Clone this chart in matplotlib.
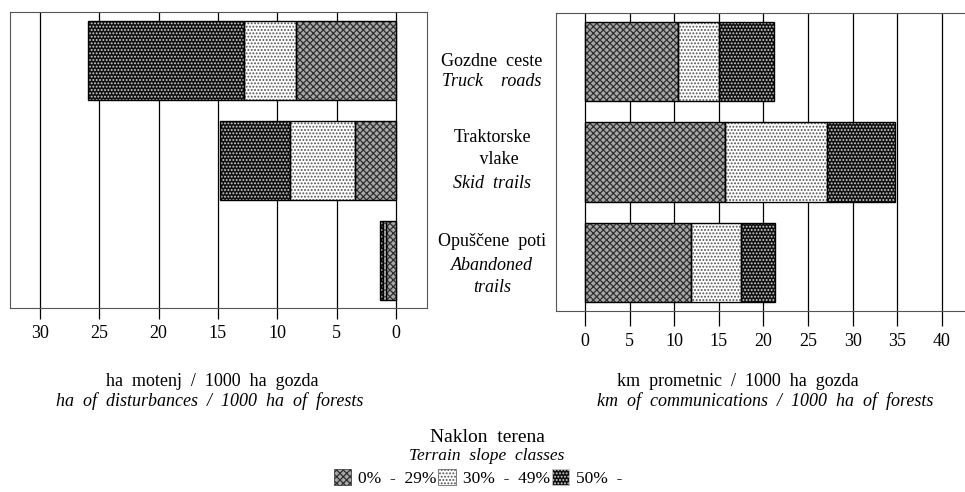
import numpy as np
import matplotlib.pyplot as plt
from matplotlib.patches import Patch

plt.rcParams['font.family'] = ['Liberation Serif', 'DejaVu Serif']
plt.rcParams['hatch.linewidth'] = 0.9

categories = ['Gozdne ceste', 'Traktorske vlake', 'Opuščene poti']
classes = ['0%  -  29%', '30%  -  49%', '50%  -']

# ha of disturbances / 1000 ha of forests
dist_0_29 = [8.4, 3.5, 0.84]
dist_30_49 = [4.4, 5.4, 0.28]
dist_50 = [13.1, 5.9, 0.2]

# km of communications / 1000 ha of forests
comm_0_29 = [10.4, 15.7, 11.9]
comm_30_49 = [4.6, 11.4, 5.6]
comm_50 = [6.2, 7.6, 3.8]

ticks_left = [0, 5, 10, 15, 20, 25, 30]
ticks_right = [0, 5, 10, 15, 20, 25, 30, 35, 40]

# face colour, hatch, hatch colour for each slope class
styles = [('#a8a8a8', 'xxxxx', '#303030'),
          ('white', '.....', '#505050'),
          ('#111111', '.....', '#d0d0d0')]

W, H = 965, 492
def fx(px):
    return px / W
def fy(py):
    return 1 - py / H

fig = plt.figure(figsize=(9.65, 4.92), dpi=100)
ax1 = fig.add_axes([fx(10), fy(308), fx(417), 296 / H])
ax2 = fig.add_axes([fx(556), fy(311), fx(409), 298 / H])

y = np.arange(len(categories))


def draw_bars(ax, segs):
    left = np.zeros(len(y))
    for vals, (face, hatch, hcol) in zip(segs, styles):
        vals = np.array(vals)
        ax.barh(y, vals, left=left, height=0.79, color=face, lw=0, zorder=2)
        ax.barh(y, vals, left=left, height=0.79, fill=False, hatch=hatch,
                edgecolor=hcol, lw=0, zorder=3)
        ax.barh(y, vals, left=left, height=0.79, fill=False,
                edgecolor='black', lw=1.0, zorder=4)
        left += vals


draw_bars(ax1, [dist_0_29, dist_30_49, dist_50])
draw_bars(ax2, [comm_0_29, comm_30_49, comm_50])

ax1.set_xlim(32.5, -2.6)
ax2.set_xlim(-3.25, 42.6)
for ax in (ax1, ax2):
    ax.set_ylim(2.48, -0.48)
    ax.set_yticks([])
    ax.set_axisbelow(True)
    ax.grid(axis='x', color='black', lw=0.9, zorder=0)
    for s in ax.spines.values():
        s.set_color('#555555')
        s.set_linewidth(0.8)

ax1.set_xticks(ticks_left)
ax1.tick_params(axis='x', direction='out', length=8, width=0.9, labelsize=13, pad=4)
ax2.set_xticks(ticks_right)
ax2.tick_params(axis='x', direction='out', length=11, width=0.9, labelsize=13, pad=5)
ax2.spines['right'].set_visible(False)

# category labels between the panels
cat_lines = [
    [('Gozdne  ceste', 'normal', 1), ('Truck    roads', 'italic', 22)],
    [('Traktorske', 'normal', -23), ('   vlake', 'normal', 0), ('Skid  trails', 'italic', 23)],
    [('Opuščene  poti', 'normal', -18), ('Abandoned', 'italic', 5), ('trails', 'italic', 28)],
]
for i, lines in enumerate(cat_lines):
    for txt, style, off in lines:
        ax1.annotate(txt, xy=(fx(492), y[i]), xycoords=('figure fraction', 'data'),
                     xytext=(0, -off * 0.72), textcoords='offset points',
                     ha='center', va='center', fontsize=13, style=style,
                     annotation_clip=False)

fig.text(fx(212), fy(381), 'ha  motenj  /  1000  ha  gozda', ha='center', va='center', fontsize=13)
fig.text(fx(210), fy(401), 'ha  of  disturbances  /  1000  ha  of  forests', ha='center', va='center',
         fontsize=13, style='italic')
fig.text(fx(738), fy(381), 'km  prometnic  /  1000  ha  gozda', ha='center', va='center', fontsize=13)
fig.text(fx(765), fy(401), 'km  of  communications  /  1000  ha  of  forests', ha='center', va='center',
         fontsize=13, style='italic')

fig.text(fx(487), fy(438), 'Naklon  terena', ha='center', va='center', fontsize=14)
fig.text(fx(487), fy(456), 'Terrain  slope  classes', ha='center', va='center', fontsize=12.5, style='italic')

handles = [Patch(facecolor=f, hatch=h, edgecolor=c, lw=0.5) for f, h, c in styles]
fig.legend(handles, classes, loc='center', bbox_to_anchor=(fx(478), fy(478)), ncol=3,
           frameon=False, fontsize=12.5, handlelength=1.0, handleheight=1.0,
           handletextpad=0.4, columnspacing=0.1)

fig.savefig('out.png', dpi=100)
